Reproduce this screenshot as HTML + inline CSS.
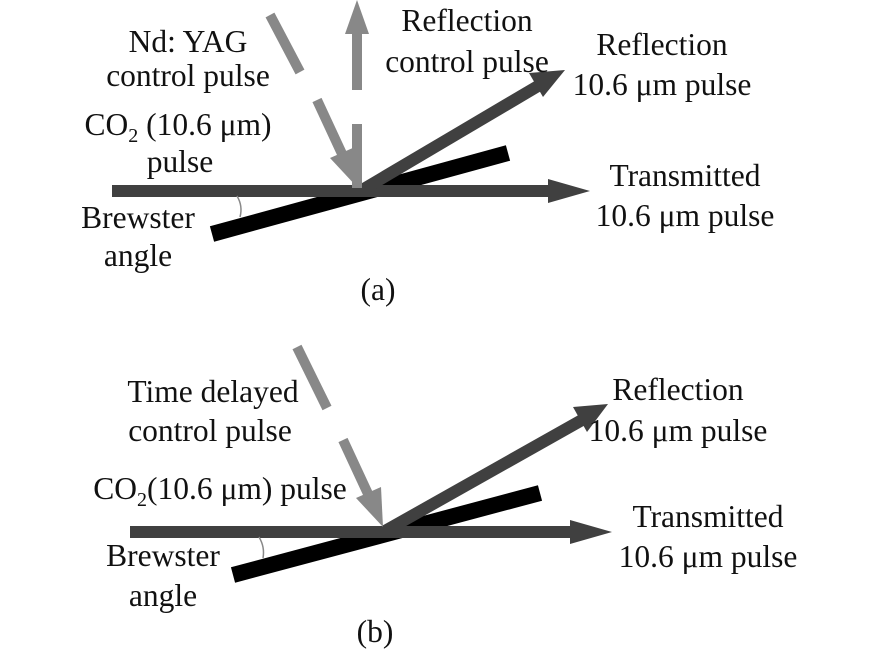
<!DOCTYPE html>
<html><head><style>
html,body{margin:0;padding:0;background:#fff;}
svg{display:block;}
text{font-family:"Liberation Serif",serif;font-size:31.5px;fill:#111;}
</style></head><body>
<svg width="886" height="656" viewBox="0 0 886 656" xmlns="http://www.w3.org/2000/svg">
<!-- Panel (a) -->
<line x1="212" y1="234" x2="508" y2="153" stroke="#000" stroke-width="16"/>
<line x1="112" y1="191" x2="555" y2="191" stroke="#404040" stroke-width="12"/>
<polygon points="548,179 590,191 548,203" fill="#404040"/>
<line x1="362" y1="190" x2="538" y2="86" stroke="#404040" stroke-width="12"/>
<polygon points="529,73 565,70 543,97" fill="#404040"/>
<line x1="270" y1="15" x2="300" y2="72" stroke="#888" stroke-width="10"/>
<line x1="317" y1="100" x2="343" y2="156" stroke="#888" stroke-width="10"/>
<polygon points="330,158 357,187 355,147" fill="#888"/>
<line x1="357" y1="188" x2="357" y2="124" stroke="#888" stroke-width="10"/>
<line x1="357" y1="90" x2="357" y2="30" stroke="#888" stroke-width="10"/>
<polygon points="345,34 357,0 369,34" fill="#888"/>
<path d="M237,196 Q243,206 240,217" fill="none" stroke="#888" stroke-width="1.5"/>
<text x="188" y="52" text-anchor="middle">Nd: YAG</text>
<text x="188" y="86" text-anchor="middle">control pulse</text>
<text x="178" y="135" text-anchor="middle">CO<tspan font-size="20" dy="7">2</tspan><tspan dy="-7"> (10.6 μm)</tspan></text>
<text x="180" y="172" text-anchor="middle">pulse</text>
<text x="138" y="228" text-anchor="middle">Brewster</text>
<text x="138" y="266" text-anchor="middle">angle</text>
<text x="467" y="31" text-anchor="middle">Reflection</text>
<text x="467" y="72" text-anchor="middle">control pulse</text>
<text x="662" y="55" text-anchor="middle">Reflection</text>
<text x="662" y="95" text-anchor="middle">10.6 μm pulse</text>
<text x="685" y="186" text-anchor="middle">Transmitted</text>
<text x="685" y="226" text-anchor="middle">10.6 μm pulse</text>
<text x="378" y="300" text-anchor="middle">(a)</text>
<!-- Panel (b) -->
<line x1="233" y1="575" x2="540" y2="493" stroke="#000" stroke-width="16"/>
<line x1="130" y1="532" x2="577" y2="532" stroke="#404040" stroke-width="12"/>
<polygon points="570,520 612,532 570,544" fill="#404040"/>
<line x1="385" y1="531" x2="582" y2="420" stroke="#404040" stroke-width="12"/>
<polygon points="573,407 608,404 587,432" fill="#404040"/>
<line x1="297" y1="347" x2="327" y2="408" stroke="#888" stroke-width="10"/>
<line x1="343" y1="440" x2="369" y2="496" stroke="#888" stroke-width="10"/>
<polygon points="356,498 383,527 381,487" fill="#888"/>
<path d="M259,537 Q265,547 263,558" fill="none" stroke="#888" stroke-width="1.5"/>
<text x="213" y="402" text-anchor="middle">Time delayed</text>
<text x="210" y="441" text-anchor="middle">control pulse</text>
<text x="220" y="499" text-anchor="middle">CO<tspan font-size="20" dy="7">2</tspan><tspan dy="-7">(10.6 μm) pulse</tspan></text>
<text x="163" y="566" text-anchor="middle">Brewster</text>
<text x="163" y="606" text-anchor="middle">angle</text>
<text x="678" y="400" text-anchor="middle">Reflection</text>
<text x="678" y="441" text-anchor="middle">10.6 μm pulse</text>
<text x="708" y="527" text-anchor="middle">Transmitted</text>
<text x="708" y="567" text-anchor="middle">10.6 μm pulse</text>
<text x="375" y="642" text-anchor="middle">(b)</text>
</svg>
</body></html>
